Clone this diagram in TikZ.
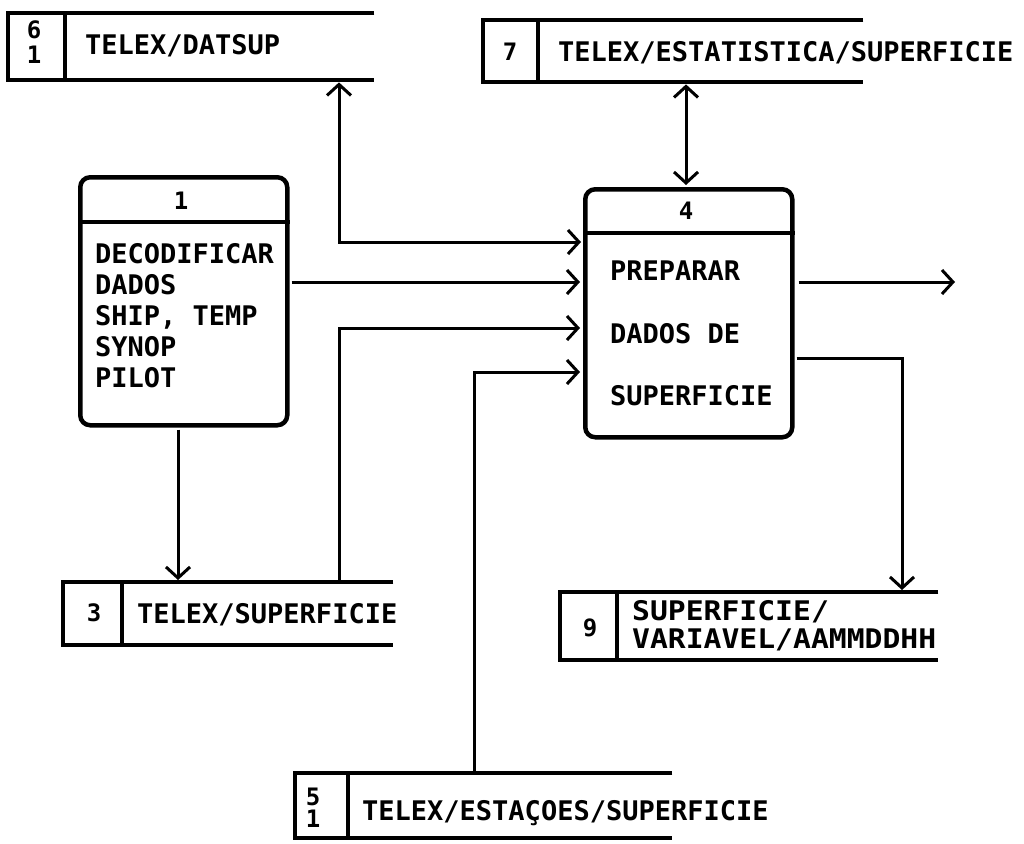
\documentclass[tikz,border=0pt]{standalone}
\usepackage{fontspec}
\newfontfamily\dfont{DejaVu Sans Mono}
\newfontfamily\dfontwide[FakeStretch=1.1]{DejaVu Sans Mono}
\usetikzlibrary{arrows.meta}
\begin{document}
\begin{tikzpicture}[x=1pt,y=-1pt,
  procbox/.style={draw, line width=4.5pt, rounded corners=10pt, inner sep=0pt, anchor=north west},
  storebody/.style={inner sep=0pt, anchor=north west},
  sline/.style={line width=4pt},
  hline/.style={line width=4.5pt},
  flow/.style={line width=3pt, -{Straight Barb[length=11pt,width=24pt]}},
  flowtwo/.style={line width=3pt, {Straight Barb[length=11pt,width=24pt]}-{Straight Barb[length=11pt,width=24pt]}},
  txt/.style={font=\dfont\bfseries\fontsize{27}{31}\selectfont, inner sep=0pt},
  txtw/.style={font=\dfontwide\bfseries\fontsize{27}{28}\selectfont, inner sep=0pt},
  num/.style={font=\dfont\bfseries\fontsize{24}{25}\selectfont, inner sep=0pt},
  ]
\useasboundingbox (0,0) rectangle (1024,843);
\fill[white] (0,0) rectangle (1024,843);

% ---------- processes ----------
\node[procbox, minimum width=207pt, minimum height=248pt] (p1) at (78,175) {};
\draw[hline] (p1.west |- 0,222) -- (p1.east |- 0,222);
\node[num] (p1n) at (181,201) {1};
\node[txt, align=left, anchor=base west] (p1t) at (95,387)
  {DECODIFICAR\\DADOS\\SHIP, TEMP\\SYNOP\\PILOT};

\node[procbox, minimum width=207pt, minimum height=248pt] (p4) at (583,187) {};
\draw[hline] (p4.west |- 0,233) -- (p4.east |- 0,233);
\node[num] (p4n) at (686,211) {4};
\node[txt, anchor=base west] (p4a) at (610,280) {PREPARAR};
\node[txt, anchor=base west] (p4b) at (610,343) {DADOS DE};
\node[txt, anchor=base west] (p4c) at (610,405) {SUPERFICIE};

% ---------- stores ----------
% store 6
\node[storebody, minimum width=366pt, minimum height=67pt] (s6) at (8,13) {};
\draw[sline] (s6.north east) -- (s6.north west) -- (s6.south west) -- (s6.south east);
\draw[sline] (s6.north -| 65,0) -- (s6.south -| 65,0);
\node[num] (s6a) at (34,30) {6};
\node[num] (s6b) at (34,55) {1};
\node[txt, anchor=base west] (s6t) at (85,55) {TELEX/DATSUP};

% store 7
\node[storebody, minimum width=380pt, minimum height=62pt] (s7) at (483,20) {};
\draw[sline] (s7.north east) -- (s7.north west) -- (s7.south west) -- (s7.south east);
\draw[sline] (s7.north -| 538,0) -- (s7.south -| 538,0);
\node[num] (s7a) at (510,52) {7};
\node[txt, anchor=base west] (s7t) at (558,62) {TELEX/ESTATISTICA/SUPERFICIE};

% store 3
\node[storebody, minimum width=330pt, minimum height=63pt] (s3) at (63,582) {};
\draw[sline] (s3.north east) -- (s3.north west) -- (s3.south west) -- (s3.south east);
\draw[sline] (s3.north -| 122,0) -- (s3.south -| 122,0);
\node[num] (s3a) at (94,613) {3};
\node[txt, anchor=base west] (s3t) at (137,623) {TELEX/SUPERFICIE};

% store 9
\node[storebody, minimum width=378pt, minimum height=68pt] (s9) at (560,592) {};
\draw[sline] (s9.north east) -- (s9.north west) -- (s9.south west) -- (s9.south east);
\draw[sline] (s9.north -| 617,0) -- (s9.south -| 617,0);
\node[num] (s9a) at (590,628) {9};
\node[txtw, align=left, anchor=base west] (s9t) at (632,648) {SUPERFICIE/\\VARIAVEL/AAMMDDHH};

% store 5
\node[storebody, minimum width=377pt, minimum height=65pt] (s5) at (295,773) {};
\draw[sline] (s5.north east) -- (s5.north west) -- (s5.south west) -- (s5.south east);
\draw[sline] (s5.north -| 348,0) -- (s5.south -| 348,0);
\node[num] (s5a) at (313,797) {5};
\node[num] (s5b) at (313,819) {1};
\node[txt, anchor=base west] (s5t) at (362,820) {TELEX/ESTAÇOES/SUPERFICIE};

% ---------- flows ----------
\draw[flowtwo, shorten >=2pt, shorten <=2pt] (s6.south -| 339,0) |- (p4.west |- 0,242);
\draw[flowtwo, shorten >=2pt, shorten <=2pt] (s7.south -| 686,0) -- (p4.north -| 686,0);
\draw[flow, shorten >=3pt, shorten <=2pt] (p1.east |- 0,282) -- (p4.west |- 0,282);
\draw[flow, shorten >=3pt, shorten <=2pt] (s3.north -| 339,0) |- (p4.west |- 0,328);
\draw[flow, shorten >=3pt, shorten <=2pt] (s5.north -| 474,0) |- (p4.west |- 0,372);
\draw[flow, shorten >=2pt, shorten <=2pt] (p1.south -| 178,0) -- (s3.north -| 178,0);
\coordinate (out) at (955,282);
\draw[flow, shorten <=4pt] (p4.east |- out) -- (out);
\draw[flow, shorten >=2pt, shorten <=2pt] (p4.east |- 0,358) -| (s9.north -| 902,0);
\end{tikzpicture}
\end{document}
